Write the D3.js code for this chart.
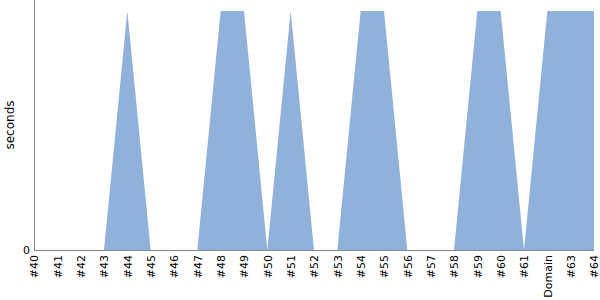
<!DOCTYPE html>
<html><head>
<script src="https://cdnjs.cloudflare.com/ajax/libs/d3/7.8.5/d3.min.js"></script>
<style>
  body { margin: 0; background: #fff; }
  .axis text { font-family: 'DejaVu Sans'; font-size: 11px; fill: #000; }
  .axis path, .axis line { stroke: #888; }
  .label { font-family: 'DejaVu Sans'; font-size: 12px; fill: #000; }
</style>
</head>
<body>
<svg id="chart" width="600" height="300"></svg>
<script>
// categories and values
const builds = ["#40","#41","#42","#43","#44","#45","#46","#47","#48","#49","#50","#51","#52",
                "#53","#54","#55","#56","#57","#58","#59","#60","#61","Domain","#63","#64"];
const seconds = [0,0,0,0,1,0,0,0,1,1,0,1,0,0,1,1,0,0,0,1,1,0,1,1,1];
const yTicks = [0];

const svg = d3.select("#chart");
const margin = {top: 0, right: 6, bottom: 50, left: 34};
const w = 600 - margin.left - margin.right;
const h = 300 - margin.top - margin.bottom;
const g = svg.append("g").attr("transform", `translate(${margin.left},${margin.top})`);

const x = d3.scalePoint().domain(builds).range([0, w - 0]);
const y = d3.scaleLinear().domain([0, 1.046]).range([h, 0]);

const data = builds.map((b, i) => ({b: b, v: seconds[i]}));

const area = d3.area()
  .x(d => x(d.b))
  .y0(h)
  .y1(d => y(d.v));

g.append("path").datum(data)
  .attr("d", area)
  .attr("fill", "#8fb1da");

g.append("g").attr("class", "axis")
  .call(d3.axisLeft(y).tickValues(yTicks).tickSize(0).tickPadding(4).tickFormat(d3.format("d")))
  .call(a => a.select(".domain").attr("d", `M0.5,0V${h}`));

const xa = g.append("g").attr("class", "axis")
  .attr("transform", `translate(0,${h})`)
  .call(d3.axisBottom(x).tickSize(0).tickPadding(3));
xa.select(".domain").attr("d", `M0,0.5H${w}`);
xa.selectAll("text")
  .attr("transform", "rotate(-90)")
  .attr("text-anchor", "end")
  .attr("x", -5)
  .attr("y", 0)
  .attr("dy", "0.35em");

svg.append("text").attr("class", "label")
  .attr("transform", `translate(14,${h / 2}) rotate(-90)`)
  .attr("text-anchor", "middle")
  .text("seconds");
</script>
</body>
</html>
